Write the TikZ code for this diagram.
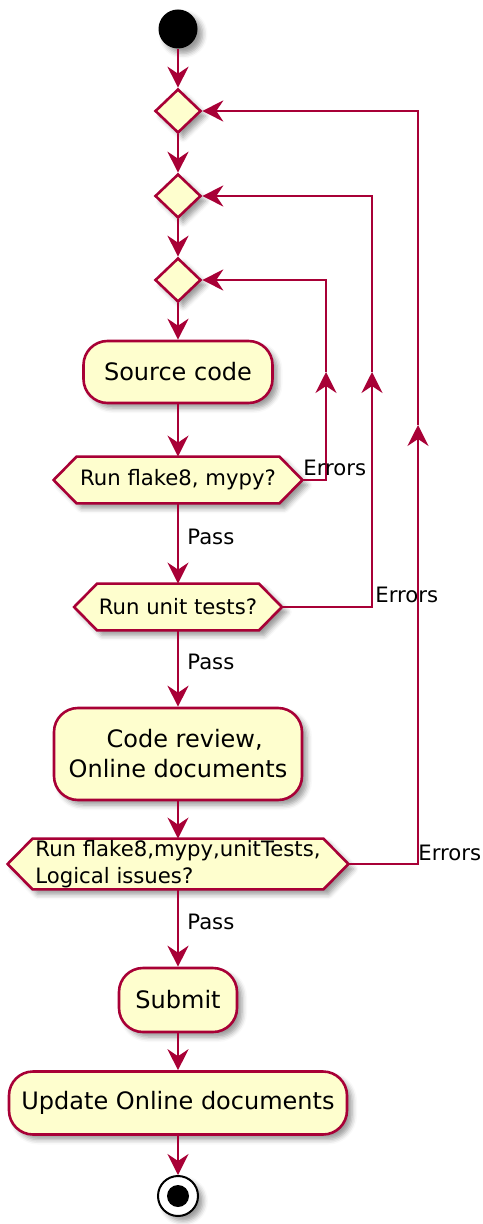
\documentclass[tikz,border=0pt]{standalone}
\usepackage{fontspec}
\setmainfont{DejaVu Sans}
\usetikzlibrary{shapes.geometric,arrows.meta,backgrounds,shadows.blur}
\definecolor{umlfill}{HTML}{FEFECE}
\definecolor{umlline}{HTML}{A80036}

% outline of a decision hexagon around a named node: #1 node, #2 point depth
\newcommand\hexoutline[2]{%
  \path[hexa] ([xshift=#2]#1.north west) -- ([xshift=-#2]#1.north east) -- (#1.east)
    -- ([xshift=-#2]#1.south east) -- ([xshift=#2]#1.south west) -- (#1.west) -- cycle;}

\begin{document}
\begin{tikzpicture}[x=0.5pt,y=-0.5pt,
  umlshadow/.style={blur shadow={shadow xshift=2.5pt,shadow yshift=-2.5pt,shadow blur radius=2.5pt,shadow opacity=40}},
  act/.style={draw=umlline, fill=umlfill, line width=1.3pt, rounded corners=12pt, umlshadow,
              font=\fontsize{12}{15}\selectfont, inner sep=0pt},
  junction/.style={diamond, draw=umlline, fill=umlfill, line width=1.3pt, minimum width=23pt,
              minimum height=22pt, inner sep=0pt, umlshadow},
  decision/.style={inner sep=0pt, font=\fontsize{10.6}{13.5}\selectfont},
  hexa/.style={draw=umlline, fill=umlfill, line width=1.3pt, umlshadow},
  flow/.style={draw=umlline, line width=1.15pt, -{Stealth[length=10.5pt,width=10.5pt,inset=3.5pt]}},
  lbl/.style={font=\fontsize{10.6}{13}\selectfont, inner sep=0pt, anchor=west}
]
\useasboundingbox (0,0) rectangle (482,1224);

% start, merge points and actions
\node[circle, fill=black, minimum size=19.5pt, inner sep=0pt, umlshadow] (start) at (178,29) {};
\node[junction] (j1) at (178,111) {};
\node[junction] (j2) at (178,196) {};
\node[junction] (j3) at (178,280) {};
\node[act, minimum width=94.5pt, minimum height=31pt] (src) at (178,372) {Source code};
\node[decision, minimum width=124pt, minimum height=23pt] (t1) at (178,480) {Run flake8, mypy?};
\node[decision, minimum width=103.5pt, minimum height=23pt] (t2) at (178,607) {Run unit tests?};
\node[act, minimum width=124pt, minimum height=46pt, align=left] (rev) at (178,754)
  {\hspace*{19pt}Code review,\\Online documents};
\node[decision, minimum width=170pt, minimum height=25pt, align=left] (t3) at (178,864)
  {Run flake8,mypy,unitTests,\\Logical issues?};
\node[act, minimum width=59pt, minimum height=32pt] (sub) at (178,1000) {Submit};
\node[act, minimum width=169pt, minimum height=31.5pt] (upd) at (178,1103) {Update Online documents};
\node[circle, draw=black, line width=1pt, fill=white, minimum size=20pt, inner sep=0pt, umlshadow] (stop) at (178,1196) {};
\node[circle, fill=black, minimum size=11pt, inner sep=0pt] (stopdot) at (stop) {};

\begin{scope}[on background layer]
  \hexoutline{t1}{11.5pt}
  \hexoutline{t2}{11.5pt}
  \hexoutline{t3}{12.5pt}
\end{scope}

% main flow
\draw[flow] (start.south) -- (j1.north);
\draw[flow] (j1.south) -- (j2.north);
\draw[flow] (j2.south) -- (j3.north);
\draw[flow] (j3.south) -- (src.north);
\draw[flow] (src.south) -- (t1.north);
\draw[flow] (t1.south) -- (t2.north);
\draw[flow] (t2.south) -- (rev.north);
\draw[flow] (rev.south) -- (t3.north);
\draw[flow] (t3.south) -- (sub.north);
\draw[flow] (sub.south) -- (upd.north);
\draw[flow] (upd.south) -- (stop.north);

\node[lbl] (pass1) at (187,537) {Pass};
\node[lbl] (pass2) at (187,662) {Pass};
\node[lbl] (pass3) at (187,922) {Pass};

% error loops back to the merge points
\coordinate (e1a) at (326,480); \coordinate (e1m) at (326,372); \coordinate (e1b) at (326,280);
\draw[flow] (t1.east) -- (e1a) -- (e1m);
\draw[flow] (e1m) -- (e1b) -- (j3.east);
\node[lbl] (err1) at (303,468) {Errors};

\coordinate (e2a) at (372,607); \coordinate (e2m) at (372,372); \coordinate (e2b) at (372,196);
\draw[flow] (t2.east) -- (e2a) -- (e2m);
\draw[flow] (e2m) -- (e2b) -- (j2.east);
\node[lbl] (err2) at (375,595) {Errors};

\coordinate (e3a) at (418,864); \coordinate (e3m) at (418,425); \coordinate (e3b) at (418,111);
\draw[flow] (t3.east) -- (e3a) -- (e3m);
\draw[flow] (e3m) -- (e3b) -- (j1.east);
\node[lbl] (err3) at (418,853) {Errors};
\end{tikzpicture}
\end{document}
